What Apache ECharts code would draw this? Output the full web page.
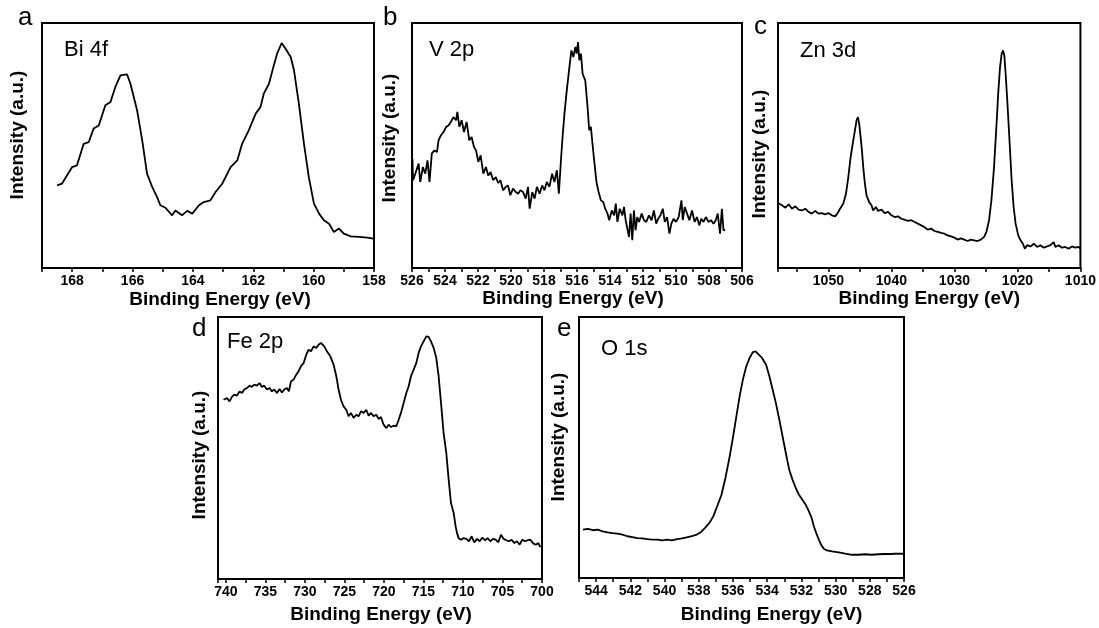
<!DOCTYPE html>
<html>
<head>
<meta charset="utf-8">
<script src="https://cdn.jsdelivr.net/npm/echarts@6/dist/echarts.min.js"></script>
<style>
  html, body { margin: 0; padding: 0; background: #fff; }
  #chart { width: 1099px; height: 628px; }
</style>
</head>
<body>
<div id="chart"></div>
<script>
// Bi 4f
const biEnergy = [168.50,168.34,168.00,167.84,167.62,167.45,167.29,167.12,166.90,166.73,166.57,166.40,166.18,166.07,165.85,165.68,165.52,165.35,165.19,165.08,164.91,164.69,164.58,164.36,164.19,164.02,163.80,163.64,163.42,163.25,163.03,162.75,162.53,162.37,162.15,161.92,161.76,161.65,161.48,161.32,161.21,161.06,160.93,160.76,160.65,160.49,160.32,160.16,159.99,159.82,159.66,159.49,159.33,159.16,159.00,158.77,158.50,158.22,158.02]
const biIntensity = [33.7,34.4,41.2,41.9,50.7,51.4,56.9,58.2,66.4,67.8,73.9,78.6,79.0,75.2,64.4,52.1,38.5,33.1,29.0,25.6,24.6,21.5,23.5,21.5,23.3,22.2,25.6,26.9,27.6,31.0,34.4,41.2,43.9,50.7,56.2,63.0,65.7,71.2,75.2,82.7,87.5,91.8,89.5,86.1,80.7,67.1,50.7,37.1,26.3,22.2,19.5,18.1,14.7,16.1,14.0,12.9,12.7,12.4,12.0]

// V 2p
const vEnergy = [525.97,525.94,525.80,525.60,525.50,525.34,525.20,525.06,524.94,524.80,524.65,524.49,524.39,524.25,524.09,523.93,523.79,523.65,523.49,523.33,523.25,523.13,522.99,522.85,522.69,522.53,522.39,522.24,522.12,521.98,521.84,521.68,521.52,521.38,521.24,521.08,520.92,520.78,520.64,520.48,520.32,520.18,520.04,519.88,519.71,519.57,519.43,519.27,519.11,518.97,518.87,518.71,518.57,518.43,518.27,518.11,517.97,517.83,517.67,517.51,517.37,517.22,517.10,516.96,516.86,516.76,516.62,516.46,516.34,516.22,516.10,516.02,515.94,515.86,515.76,515.66,515.50,515.36,515.26,515.16,515.06,514.96,514.82,514.69,514.55,514.41,514.29,514.15,514.05,513.89,513.75,513.65,513.55,513.41,513.25,513.15,513.05,512.93,512.85,512.75,512.65,512.55,512.45,512.35,512.24,512.08,511.94,511.80,511.64,511.48,511.34,511.20,511.08,510.94,510.80,510.68,510.54,510.40,510.28,510.14,510.00,509.84,509.67,509.59,509.47,509.33,509.19,509.03,508.87,508.73,508.59,508.47,508.33,508.19,508.03,507.87,507.73,507.59,507.47,507.33,507.22,507.12,507.02]
const vIntensity = [44.6,35.8,38.5,42.6,35.1,41.2,38.5,43.9,35.1,46.7,48.0,47.3,52.1,54.1,55.5,57.6,58.2,59.6,61.6,60.3,63.7,57.6,60.3,55.5,59.6,52.1,53.5,49.4,48.0,43.3,46.0,38.5,41.2,37.8,39.2,35.8,37.1,34.7,35.8,31.7,33.1,33.7,29.7,32.4,31.0,30.3,31.7,31.0,28.3,33.1,24.2,31.0,28.3,33.1,30.3,33.7,31.7,35.1,33.1,38.5,35.1,39.9,30.3,45.3,54.8,63.0,72.5,82.0,88.8,86.1,90.2,87.5,92.2,84.8,87.5,79.3,76.6,65.7,56.2,57.6,50.7,43.9,35.1,31.0,27.6,26.9,24.2,22.2,19.5,23.5,21.5,26.3,18.8,24.2,21.5,24.9,19.5,15.4,12.7,22.2,11.3,23.5,15.4,20.8,18.8,22.2,19.5,18.8,21.5,19.5,23.5,18.1,20.1,21.5,24.2,18.8,20.8,14.0,18.1,20.1,18.8,20.8,27.6,19.5,24.9,22.2,19.5,23.5,18.8,20.8,17.4,20.1,18.8,20.8,18.8,19.5,18.1,19.5,22.2,14.0,24.2,15.4,15.6]

// Zn 3d
const znEnergy = [1057.88,1057.36,1056.83,1056.30,1055.78,1055.25,1054.73,1054.20,1053.68,1053.15,1052.62,1052.10,1051.57,1051.05,1050.52,1050.00,1049.47,1048.94,1048.58,1048.15,1047.63,1047.21,1046.84,1046.47,1046.05,1045.79,1045.53,1045.32,1045.11,1044.89,1044.68,1044.47,1044.21,1043.95,1043.53,1043.16,1042.90,1042.48,1042.11,1041.58,1041.06,1040.53,1040.00,1039.48,1038.95,1038.43,1037.90,1037.38,1036.85,1036.32,1035.80,1035.27,1034.75,1034.22,1033.70,1033.17,1032.64,1032.12,1031.59,1031.07,1030.54,1030.02,1029.49,1028.96,1028.44,1027.91,1027.39,1026.86,1026.34,1025.81,1025.28,1024.92,1024.50,1024.13,1023.71,1023.34,1023.02,1022.76,1022.50,1022.29,1022.08,1021.87,1021.55,1021.23,1020.92,1020.60,1020.29,1019.87,1019.50,1019.13,1018.82,1018.45,1017.92,1017.40,1016.87,1016.35,1015.82,1015.29,1014.77,1014.24,1013.98,1013.45,1012.93,1012.40,1011.88,1011.35,1010.82,1010.30,1010.04]
const znIntensity = [26.3,25.6,24.6,26.0,24.2,25.2,23.8,23.5,24.2,22.9,22.2,23.3,22.2,22.4,21.9,22.4,21.5,21.1,22.2,24.2,26.3,30.3,37.1,45.3,52.1,56.2,60.3,61.6,58.9,53.5,48.0,41.2,34.4,29.7,26.9,25.6,23.5,24.9,23.3,23.8,22.4,22.9,21.5,20.8,21.1,20.1,19.7,19.2,19.5,18.8,18.1,17.4,16.7,15.6,16.1,15.1,14.7,14.3,14.0,13.3,12.9,12.4,11.6,12.1,11.6,11.0,11.6,11.3,11.0,11.6,12.7,14.7,19.5,27.6,41.2,57.6,72.5,82.0,87.5,88.8,86.8,79.3,65.7,50.7,35.8,24.9,18.1,13.3,11.3,9.9,7.9,9.3,8.8,9.9,8.6,9.3,8.3,8.8,9.3,10.6,8.6,9.3,8.3,8.6,7.9,8.8,8.3,8.6,7.9]

// Fe 2p
const feEnergy = [740.30,739.87,739.54,739.24,738.95,738.61,738.27,737.97,737.68,737.34,737.00,736.71,736.41,736.08,735.74,735.44,735.15,734.81,734.47,734.18,733.88,733.54,733.21,732.91,732.62,732.28,732.03,731.77,731.43,731.10,730.80,730.51,730.17,729.83,729.54,729.24,728.90,728.57,728.27,727.97,727.72,727.55,727.22,726.79,726.37,726.03,725.74,725.44,725.11,724.77,724.47,724.18,723.84,723.50,723.21,722.91,722.57,722.24,721.94,721.65,721.31,720.97,720.68,720.38,720.04,719.70,719.41,719.11,718.78,718.44,718.14,717.85,717.51,717.17,716.88,716.58,716.24,715.91,715.61,715.32,714.98,714.64,714.35,714.05,713.71,713.38,713.08,712.78,712.45,712.11,711.81,711.52,711.18,710.93,710.76,710.55,710.25,709.92,709.58,709.24,708.90,708.57,708.23,707.89,707.55,707.22,706.88,706.54,706.20,705.86,705.53,705.19,704.85,704.51,704.18,703.84,703.50,703.16,702.83,702.49,702.15,701.81,701.48,701.14,700.80,700.46,700.21]
const feIntensity = [68.4,69.1,67.8,69.5,70.4,70.0,71.6,71.0,72.3,72.9,73.8,73.3,74.2,73.8,74.8,73.3,73.8,72.3,72.9,71.6,72.3,71.0,72.5,71.2,72.3,72.9,71.6,75.4,76.1,78.0,79.3,81.2,82.4,85.6,87.5,86.9,88.8,88.2,89.4,90.1,90.7,88.8,86.9,85.0,81.8,77.4,72.3,68.4,65.9,64.6,62.1,63.4,61.5,62.7,62.1,64.0,63.4,64.6,62.3,63.4,62.1,62.7,61.1,61.8,58.9,57.6,58.9,58.0,58.5,58.3,60.8,63.4,67.2,71.0,73.5,77.4,79.9,82.4,86.3,88.8,90.7,92.6,92.4,90.7,88.2,84.4,77.4,67.2,55.7,48.1,37.9,29.0,25.2,20.1,17.6,15.6,15.0,15.6,15.3,14.4,16.3,14.0,15.3,14.4,15.8,14.8,15.6,14.4,15.3,15.0,14.0,16.9,15.3,14.8,14.4,15.0,13.7,14.4,13.1,15.0,14.4,14.8,15.0,13.7,13.1,13.7,12.2]

// O 1s
const oEnergy = [544.77,544.48,544.19,543.90,543.62,543.33,543.04,542.75,542.46,542.17,541.88,541.59,541.30,541.01,540.72,540.43,540.14,539.85,539.56,539.27,538.98,538.70,538.41,538.12,537.89,537.63,537.38,537.15,536.92,536.67,536.44,536.19,535.99,535.80,535.61,535.42,535.22,535.03,534.84,534.68,534.49,534.30,534.06,533.87,533.68,533.49,533.29,533.10,532.91,532.71,532.52,532.33,532.14,531.94,531.75,531.56,531.40,531.27,531.13,530.98,530.82,530.67,530.50,530.21,529.82,529.43,529.05,528.66,528.28,527.89,527.50,527.12,526.73,526.64,526.54,526.25,526.00]
const oIntensity = [18.5,18.8,18.3,18.5,17.9,17.5,17.2,17.0,16.6,16.0,15.7,15.3,15.2,14.9,14.7,14.7,14.4,14.7,14.4,14.9,15.2,15.6,16.0,16.6,17.5,19.2,21.1,23.6,27.5,31.9,38.3,46.6,54.3,61.9,69.6,76.0,81.1,84.3,86.5,86.8,85.6,84.3,81.7,77.3,72.2,67.0,60.7,54.3,47.9,41.5,37.7,34.5,31.9,30.0,28.1,25.5,23.0,19.8,17.2,14.7,12.4,11.1,10.6,10.2,9.8,9.3,8.9,8.9,9.1,8.9,9.1,9.2,9.2,9.7,9.3,9.3,9.3]

const panelLetters = ['a', 'b', 'c', 'd', 'e']
const elementNames = ['Bi 4f', 'V 2p', 'Zn 3d', 'Fe 2p', 'O 1s']
const xTitle = 'Binding Energy (eV)'
const yTitle = 'Intensity (a.u.)'

const FONT = "'Liberation Sans', Arial, sans-serif"

const pairs = (xs, ys) => xs.map((x, i) => [x, ys[i]])

// panel boxes (left, top, width, height) and axis setup
const panels = [
  { box: [42, 23, 332, 245], min: 158, max: 169, step: 1, labelStep: 2, data: pairs(biEnergy, biIntensity),
    gap: 22, shift: 12, letter: [18, 18], name: [64, 50], yname: [18, 135] },
  { box: [412, 23, 330, 245], min: 506, max: 526, step: 1, labelStep: 2, data: pairs(vEnergy, vIntensity),
    gap: 18, shift: -4, letter: [383, 18], name: [429, 50], yname: [390, 138] },
  { box: [778, 23, 304, 245], min: 1010, max: 1058, step: 5, labelStep: 10, data: pairs(znEnergy, znIntensity),
    gap: 20, shift: 0, letter: [754, 27], name: [800, 51], yname: [760, 154] },
  { box: [218, 317, 324, 262], min: 700, max: 741, step: 2.5, labelStep: 5, data: pairs(feEnergy, feIntensity),
    gap: 26, shift: 1, letter: [192, 329], name: [227, 342], yname: [200, 455] },
  { box: [579, 317, 325, 261], min: 526, max: 545, step: 1, labelStep: 2, data: pairs(oEnergy, oIntensity),
    gap: 27, shift: 30, letter: [557, 329], name: [601, 349], yname: [559, 437] },
]

const chart = echarts.init(document.getElementById('chart'), null, { renderer: 'canvas' })

const grid = panels.map((p) => ({
  left: p.box[0], top: p.box[1], width: p.box[2], height: p.box[3],
  show: true, borderColor: '#000', borderWidth: 2, backgroundColor: 'transparent',
}))

const xAxis = panels.map((p, i) => ({
  type: 'value',
  gridIndex: i,
  inverse: true,
  min: p.min,
  max: p.max,
  interval: p.step,
  axisLine: { show: true, lineStyle: { color: '#000', width: 2 } },
  axisTick: { show: true, inside: false, length: 4, lineStyle: { color: '#000', width: 1.5 } },
  axisLabel: {
    margin: 6,
    color: '#000',
    fontSize: 14,
    fontWeight: 'bold',
    fontFamily: FONT,
    formatter: (v) => {
      const k = v / p.labelStep
      return Math.abs(k - Math.round(k)) < 1e-6 ? String(Math.round(v)) : ''
    },
  },
  splitLine: { show: false },
  name: xTitle,
  nameLocation: 'middle',
  nameGap: p.gap,
  nameTextStyle: {
    color: '#000', fontSize: 19, fontWeight: 'bold', fontFamily: FONT,
    padding: p.shift >= 0 ? [0, 0, 0, p.shift * 2] : [0, -p.shift * 2, 0, 0],
  },
}))

const yAxis = panels.map((p, i) => ({
  type: 'value',
  gridIndex: i,
  min: 0,
  max: 100,
  axisLine: { show: false },
  axisTick: { show: false },
  axisLabel: { show: false },
  splitLine: { show: false },
}))

const series = panels.map((p, i) => ({
  type: 'line',
  xAxisIndex: i,
  yAxisIndex: i,
  data: p.data,
  showSymbol: false,
  lineStyle: { color: '#000', width: 1.8 },
  silent: true,
}))

const graphic = []
panels.forEach((p, i) => {
  graphic.push({
    type: 'text', x: p.letter[0], y: p.letter[1],
    style: { text: panelLetters[i], fill: '#000', font: `26px ${FONT}`, textAlign: 'left', textVerticalAlign: 'middle' },
  })
  graphic.push({
    type: 'text', x: p.name[0], y: p.name[1],
    style: { text: elementNames[i], fill: '#000', font: `22px ${FONT}`, textAlign: 'left', textVerticalAlign: 'middle' },
  })
  graphic.push({
    type: 'text', x: p.yname[0], y: p.yname[1], rotation: Math.PI / 2,
    style: { text: yTitle, fill: '#000', font: `bold 19px ${FONT}`, textAlign: 'center', textVerticalAlign: 'middle' },
  })
})

chart.setOption({
  animation: false,
  backgroundColor: '#fff',
  grid,
  xAxis,
  yAxis,
  series,
  graphic,
})
</script>
</body>
</html>
